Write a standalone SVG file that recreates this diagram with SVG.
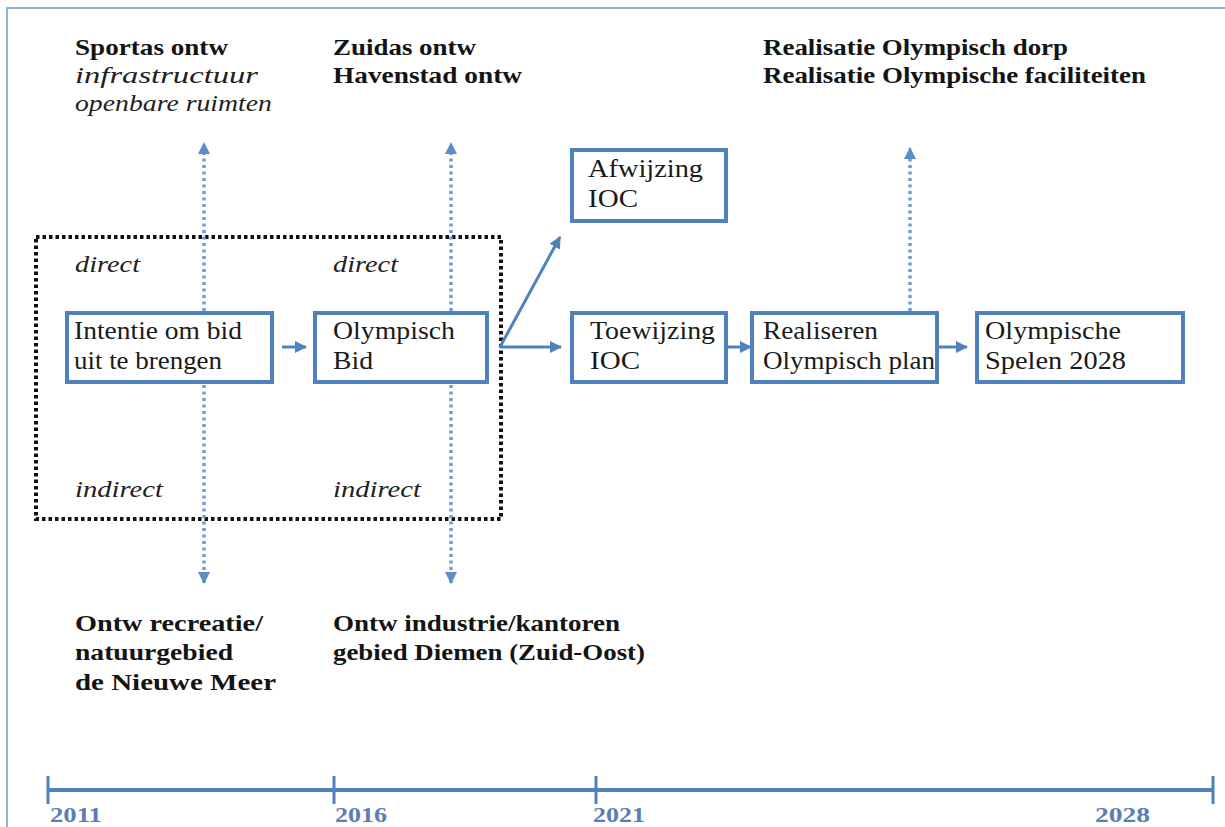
<svg xmlns="http://www.w3.org/2000/svg" width="1225" height="827" viewBox="0 0 1225 827">
<defs>
<marker id="ah" markerUnits="userSpaceOnUse" markerWidth="12" markerHeight="12" viewBox="0 0 12 12" refX="11" refY="6" orient="auto">
<path d="M0,0 L12,6 L0,12 Z" fill="#4f81bd"/>
</marker>
<marker id="ahd" markerUnits="userSpaceOnUse" markerWidth="12" markerHeight="12" viewBox="0 0 12 12" refX="11" refY="6" orient="auto">
<path d="M0,0 L12,6 L0,12 Z" fill="#5b8ccc"/>
</marker>
<style>
.box{fill:#ffffff;stroke:#4f81bd;stroke-width:4}
.bt{font-family:"Liberation Serif",serif;font-size:25px;fill:#1a1a1a}
.hd{font-family:"Liberation Serif",serif;font-size:23px;font-weight:bold;fill:#141414}
.it{font-family:"Liberation Serif",serif;font-size:23px;font-style:italic;fill:#222}
.yr{font-family:"Liberation Serif",serif;font-size:22px;font-weight:bold;fill:#5b7db5}
.arr{stroke:#4f81bd;stroke-width:3;fill:none;marker-end:url(#ah)}
.dot{stroke:#6f9bd1;stroke-width:3.5;stroke-dasharray:3 3.5;fill:none;marker-end:url(#ahd)}
.tl{stroke:#4f81bd;stroke-width:4;fill:none}
.tk{stroke:#4f81bd;stroke-width:3;fill:none}
</style>
</defs>
<rect x="0" y="0" width="1225" height="827" fill="#ffffff"/>
<path d="M7,827 L7,8 L1225,8" stroke="#8db3e2" stroke-width="2" fill="none"/>

<g id="frame">
<rect x="36" y="237" width="465" height="282" fill="none" stroke="#111" stroke-width="4" stroke-dasharray="3.5 3"/>
<text class="it" x="75" y="272" textLength="65" lengthAdjust="spacingAndGlyphs">direct</text>
<text class="it" x="333" y="272" textLength="65" lengthAdjust="spacingAndGlyphs">direct</text>
<text class="it" x="75" y="497" textLength="88" lengthAdjust="spacingAndGlyphs">indirect</text>
<text class="it" x="333" y="497" textLength="88" lengthAdjust="spacingAndGlyphs">indirect</text>
</g>

<g id="connectors">
<line class="dot" x1="204" y1="311" x2="204" y2="143"/>
<line class="dot" x1="204" y1="385" x2="204" y2="583"/>
<line class="dot" x1="451" y1="311" x2="451" y2="143"/>
<line class="dot" x1="451" y1="385" x2="451" y2="583"/>
<line class="dot" x1="910" y1="311" x2="910" y2="148"/>
<line class="arr" x1="282" y1="347" x2="306" y2="347"/>
<line class="arr" x1="500" y1="347" x2="561" y2="347"/>
<line class="arr" x1="500" y1="347" x2="560" y2="237"/>
<line class="arr" x1="727" y1="347" x2="751" y2="347"/>
<line class="arr" x1="938" y1="347" x2="967" y2="347"/>
</g>

<g id="intentie">
<rect class="box" x="67" y="313" width="205" height="69"/>
<text class="bt" x="74" y="339" textLength="168" lengthAdjust="spacingAndGlyphs">Intentie om bid</text>
<text class="bt" x="74" y="369" textLength="148" lengthAdjust="spacingAndGlyphs">uit te brengen</text>
</g>
<g id="bid">
<rect class="box" x="315" y="313" width="172" height="69"/>
<text class="bt" x="333" y="339" textLength="122" lengthAdjust="spacingAndGlyphs">Olympisch</text>
<text class="bt" x="333" y="369" textLength="40" lengthAdjust="spacingAndGlyphs">Bid</text>
</g>
<g id="afwijzing">
<rect class="box" x="572" y="150" width="154" height="71"/>
<text class="bt" x="588" y="177" textLength="115" lengthAdjust="spacingAndGlyphs">Afwijzing</text>
<text class="bt" x="588" y="207" textLength="50" lengthAdjust="spacingAndGlyphs">IOC</text>
</g>
<g id="toewijzing">
<rect class="box" x="572" y="313" width="154" height="69"/>
<text class="bt" x="590" y="339" textLength="125" lengthAdjust="spacingAndGlyphs">Toewijzing</text>
<text class="bt" x="590" y="369" textLength="50" lengthAdjust="spacingAndGlyphs">IOC</text>
</g>
<g id="realiseren">
<rect class="box" x="752" y="313" width="185" height="69"/>
<text class="bt" x="763" y="339" textLength="115" lengthAdjust="spacingAndGlyphs">Realiseren</text>
<text class="bt" x="763" y="369" textLength="172" lengthAdjust="spacingAndGlyphs">Olympisch plan</text>
</g>
<g id="spelen">
<rect class="box" x="977" y="313" width="206" height="69"/>
<text class="bt" x="985" y="339" textLength="136" lengthAdjust="spacingAndGlyphs">Olympische</text>
<text class="bt" x="985" y="369" textLength="141" lengthAdjust="spacingAndGlyphs">Spelen 2028</text>
</g>

<g id="sportas">
<text class="hd" x="75" y="55" textLength="153" lengthAdjust="spacingAndGlyphs">Sportas ontw</text>
<text class="it" x="75" y="83" textLength="183" lengthAdjust="spacingAndGlyphs">infrastructuur</text>
<text class="it" x="75" y="111" textLength="197" lengthAdjust="spacingAndGlyphs">openbare ruimten</text>
</g>
<g id="zuidas">
<text class="hd" x="333" y="55" textLength="143" lengthAdjust="spacingAndGlyphs">Zuidas ontw</text>
<text class="hd" x="333" y="83" textLength="189" lengthAdjust="spacingAndGlyphs">Havenstad ontw</text>
</g>
<g id="realisatie">
<text class="hd" x="763" y="55" textLength="305" lengthAdjust="spacingAndGlyphs">Realisatie Olympisch dorp</text>
<text class="hd" x="763" y="83" textLength="383" lengthAdjust="spacingAndGlyphs">Realisatie Olympische faciliteiten</text>
</g>
<g id="recreatie">
<text class="hd" x="75" y="631" textLength="188" lengthAdjust="spacingAndGlyphs">Ontw recreatie/</text>
<text class="hd" x="75" y="660" textLength="158" lengthAdjust="spacingAndGlyphs">natuurgebied</text>
<text class="hd" x="75" y="690" textLength="201" lengthAdjust="spacingAndGlyphs">de Nieuwe Meer</text>
</g>
<g id="industrie">
<text class="hd" x="333" y="631" textLength="287" lengthAdjust="spacingAndGlyphs">Ontw industrie/kantoren</text>
<text class="hd" x="333" y="660" textLength="312" lengthAdjust="spacingAndGlyphs">gebied Diemen (Zuid-Oost)</text>
</g>

<g id="timeline">
<line class="tl" x1="48" y1="790" x2="1213" y2="790"/>
<line class="tk" x1="48" y1="776" x2="48" y2="804"/>
<line class="tk" x1="334" y1="776" x2="334" y2="804"/>
<line class="tk" x1="596" y1="776" x2="596" y2="804"/>
<line class="tk" x1="1213" y1="776" x2="1213" y2="804"/>
<text class="yr" x="50" y="822" textLength="52" lengthAdjust="spacingAndGlyphs">2011</text>
<text class="yr" x="335" y="822" textLength="52" lengthAdjust="spacingAndGlyphs">2016</text>
<text class="yr" x="593" y="822" textLength="52" lengthAdjust="spacingAndGlyphs">2021</text>
<text class="yr" x="1095" y="822" textLength="55" lengthAdjust="spacingAndGlyphs">2028</text>
</g>
</svg>
